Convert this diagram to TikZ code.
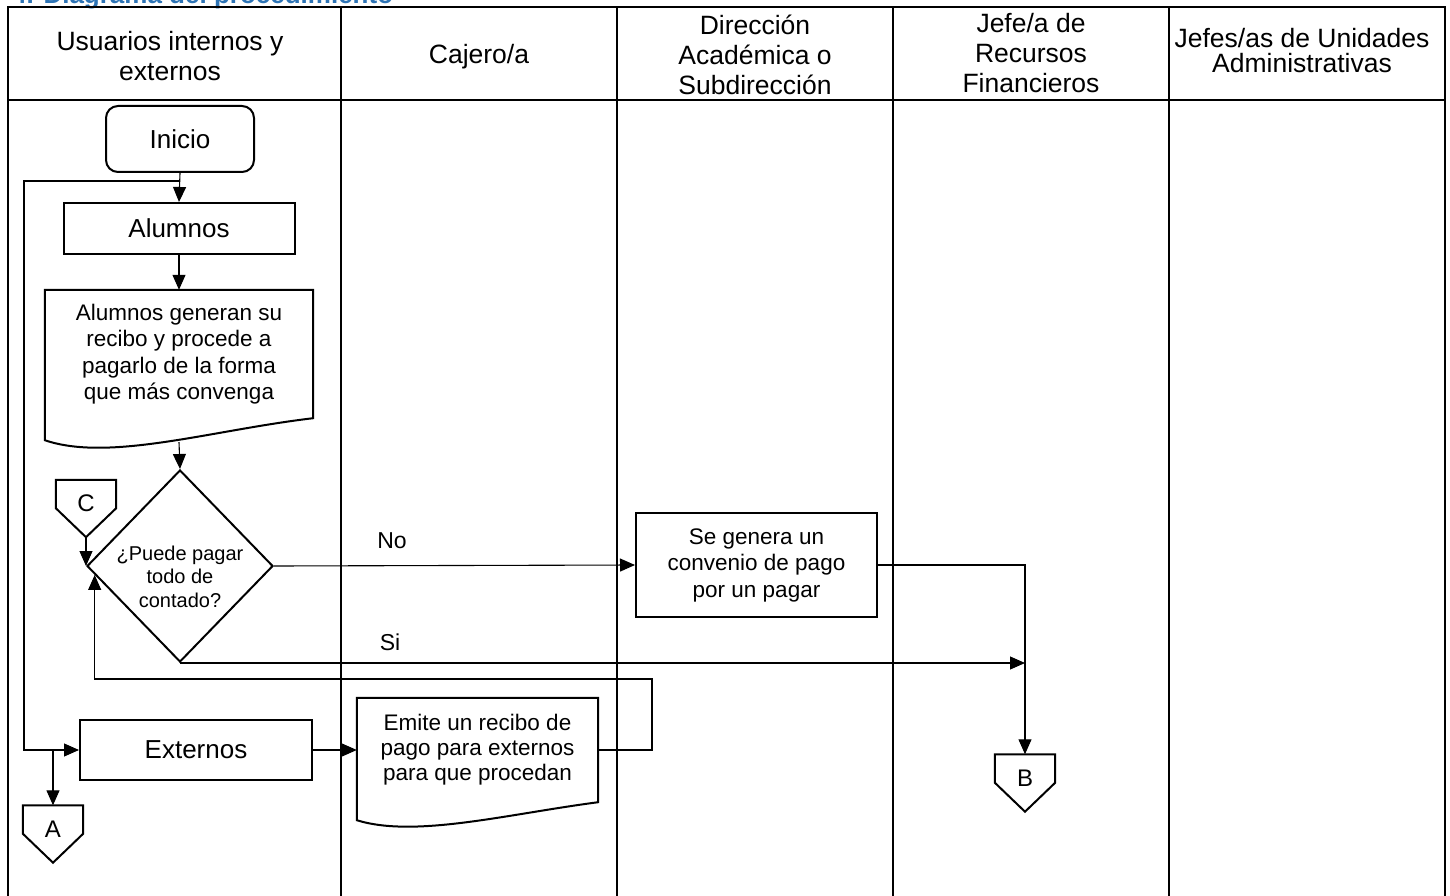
\documentclass[tikz,border=0pt]{standalone}
\usepackage{fontspec}
\setmainfont{Liberation Sans}
\usetikzlibrary{shapes.geometric,arrows.meta,calc}
\definecolor{titulo}{RGB}{46,116,181}

\begin{document}
\begin{tikzpicture}[x=1pt,y=-1pt,
    cab/.style={align=center,inner sep=0pt,font=\fontsize{26.5}{30}\selectfont},
    caja/.style={draw,line width=2pt,align=center,inner sep=0pt,font=\fontsize{26}{30}\selectfont},
    texto/.style={align=center,inner sep=0pt,font=\fontsize{22.5}{26.5}\selectfont},
    decision/.style={diamond,draw,line width=2pt,aspect=0.97,minimum width=186pt,minimum height=192pt,
                     inner sep=-9pt,align=center,font=\fontsize{20}{23.5}\selectfont},
    conec/.style={inner sep=0pt,minimum width=60pt,minimum height=57pt,text depth=10pt,
                  font=\fontsize{24}{28}\selectfont},
    flecha/.style={line width=1.1pt,-{Triangle[length=15pt,width=13pt]}},
    linea/.style={line width=1.1pt},
    borde/.style={line width=2pt},
    carril/.style={line width=2.6pt}]
    \useasboundingbox (0,0) rectangle (1450,896);

    % Titulo
    \node[anchor=base west,inner sep=0pt,text=titulo,font=\bfseries\fontsize{26}{30}\selectfont] (tit) at (12,3.5) {4. Diagrama del procedimiento};

    % Carriles
    \draw[carril] (8,900) -- (8,7) -- (1445,7) -- (1445,900);
    \draw[carril] (8,100) -- (1445,100);
    \foreach \x in {341,617,893,1169} \draw[carril] (\x,7) -- (\x,900);

    \node[cab] (usu) at (170,56) {Usuarios internos y\\externos};
    \node[cab] (caj) at (479,57) {Cajero/a};
    \node[cab] (dir) at (755,55) {Dirección\\Académica o\\Subdirección};
    \node[cab] (jrf) at (1031,53) {Jefe/a de\\Recursos\\Financieros};
    \node[cab,font=\fontsize{26.5}{25}\selectfont] (jua) at (1302,51) {Jefes/as de Unidades\\Administrativas};

    % Figuras
    \node[caja,rounded corners=12pt,minimum width=148pt,minimum height=66pt] (ini) at (180,139) {Inicio};
    \node[caja,minimum width=231pt,minimum height=51pt] (alm) at (179,228.5) {Alumnos};
    \node[texto,minimum width=268pt,minimum height=128pt] (alu) at (179,354) {Alumnos generan su\\recibo y procede a\\pagarlo de la forma\\que más convenga};
    \node[decision] (dia) at (180,566) {\rule{0pt}{36pt}¿Puede pagar\\todo de\\contado?};
    \node[conec] (C) at (86,508.5) {C};
    \node[caja,line width=2pt,minimum width=241pt,minimum height=104pt,font=\fontsize{22.5}{26.5}\selectfont] (conv) at (756.5,565) {Se genera un\\convenio de pago\\por un pagar};
    \node[caja,minimum width=232pt,minimum height=60pt] (ext) at (196,750) {Externos};
    \node[texto,minimum width=241pt,minimum height=104pt,font=\fontsize{22.5}{25}\selectfont] (emi) at (477.5,750) {Emite un recibo de\\pago para externos\\para que procedan};
    \node[conec] (A) at (53,834) {A};
    \node[conec] (B) at (1025,783) {B};

    \node[font=\fontsize{23}{26}\selectfont] (no) at (392,541) {No};
    \node[font=\fontsize{23}{26}\selectfont] (si) at (390,642) {Si};

    % Documentos y conectores fuera de pagina
    \foreach \d/\k in {alu/22,emi/18}
        \draw[borde] ($(\d.south west)+(0,\k)$) -- (\d.north west) -- (\d.north east) -- (\d.south east)
            .. controls ($(\d.south west)!.62!(\d.south east)+(0,12)$) and ($(\d.south west)!.24!(\d.south east)+(0,2*\k)$) .. ($(\d.south west)+(0,\k)$) -- cycle;
    \foreach \c in {C,A,B}
        \draw[borde] (\c.north west) -- ([yshift=29pt]\c.south west) -- (\c.south) -- ([yshift=29pt]\c.south east) -- (\c.north east) -- cycle;

    % Flechas
    \coordinate (rama) at (180,181);
    \coordinate (vuelta) at (652,679);
    \draw[flecha] (ini.south) -- (alm.north);
    \draw[flecha] (rama) -| ([xshift=-55pt]ext.west) -- (ext.west);
    \draw[flecha] (A.north |- ext.west) -- (A.north);
    \draw[flecha] (alm.south) -- (alu.north);
    \draw[flecha] ([yshift=-24pt]alu.south) -- (dia.north);
    \draw[flecha] (C.south) -- (dia.west);
    \draw[flecha] (dia.east) -- (conv.west);
    \draw[flecha] (conv.east) -| (B.north);
    \draw[flecha] (dia.south) -- (dia.south -| B.north);
    \draw[flecha] (ext.east) -- (emi.west);
    \draw[flecha] (emi.east) -| (vuelta) -| (dia.186);
\end{tikzpicture}
\end{document}
